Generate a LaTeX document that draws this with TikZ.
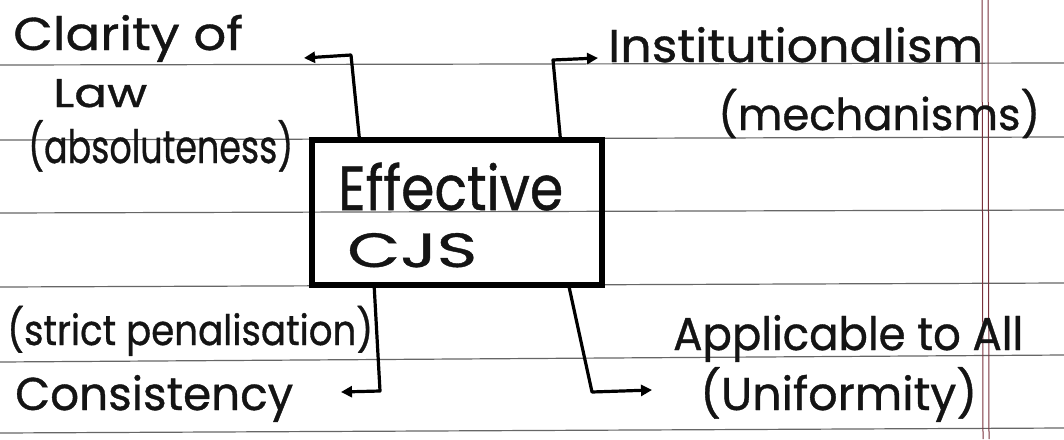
\documentclass[tikz,border=0pt]{standalone}
\usepackage{fontspec}
\usepackage{graphicx}
\setmainfont{Poppins}[FakeBold=0.8]
\usetikzlibrary{arrows.meta}
\newcommand\hwbox[2]{\resizebox{#1pt}{\height}{#2}}
\definecolor{marginred}{RGB}{120,50,60}
\tikzset{
  hand/.style={inner sep=0pt, anchor=base west, text=black!92, font=\fontsize{46}{50}\selectfont},
  rule/.style={draw=black!60, line width=1.2pt},
  marginline/.style={draw=marginred, line width=1pt},
  mainbox/.style={draw=black, line width=5.5pt, rectangle, minimum width=290pt, minimum height=145pt, inner sep=0pt},
  conn/.style={draw=black, line width=3.2pt, line join=round, -{Triangle[length=11pt,width=11pt]}},
}
\begin{document}
\begin{tikzpicture}[x=1pt,y=-1pt]
\useasboundingbox (0,0) rectangle (1064,439);
\fill[white] (0,0) rectangle (1064,439);
% ruled lines
\draw[rule] (0,65) -- (1064,63);
\draw[rule] (0,140) -- (1064,137);
\draw[rule] (0,213) -- (1064,210);
\draw[rule] (0,287) -- (1064,283);
\draw[rule] (0,362) -- (1064,355);
\draw[rule] (0,433) -- (1064,428);
% margin
\draw[marginline] (982,0) -- (983,439);
\draw[marginline] (988,0) -- (989,439);
% main box
\node[mainbox] (cjs) at (457,212.5) {};
\node[hand, font=\fontsize{62}{66}\selectfont] (eff) at (338,210) {\hwbox{225}{Effective}};
\node[hand, font=\fontsize{48}{52}\selectfont] (cjstext) at (347,267) {\hwbox{130}{CJS}};
% texts
\node[hand] (clarity) at (13,50) {\hwbox{230}{Clarity of}};
\node[hand, font=\fontsize{40}{44}\selectfont] (law) at (53,107) {\hwbox{94}{Law}};
\node[hand] (abs) at (28,163) {\hwbox{265}{(absoluteness)}};
\node[hand] (inst) at (608,62) {\hwbox{375}{Institutionalism}};
\node[hand, font=\fontsize{44}{48}\selectfont] (mech) at (718,130) {\hwbox{322}{(mechanisms)}};
\node[hand, font=\fontsize{42}{46}\selectfont] (strict) at (7,345) {\hwbox{366}{(strict penalisation)}};
\node[hand] (cons) at (15,410) {\hwbox{278}{Consistency}};
\node[hand] (app) at (673,350) {\hwbox{350}{Applicable to All}};
\node[hand] (unif) at (700,410) {\hwbox{277}{(Uniformity)}};
% connector coordinates
\coordinate (c1a) at (351,55);
\coordinate (c1b) at (304,58);
\coordinate (c2a) at (553,60);
\coordinate (c2b) at (598,58);
\coordinate (c3a) at (380,391);
\coordinate (c3b) at (341,392);
\coordinate (c4a) at (592,392);
\coordinate (c4b) at (652,390);
\draw[conn] ([xshift=50pt]cjs.north west) -- (c1a) -- (c1b);
\draw[conn] ([xshift=251pt]cjs.north west) -- (c2a) -- (c2b);
\draw[conn] ([xshift=65pt]cjs.south west) -- (c3a) -- (c3b);
\draw[conn] ([xshift=260pt]cjs.south west) -- (c4a) -- (c4b);
\end{tikzpicture}
\end{document}
